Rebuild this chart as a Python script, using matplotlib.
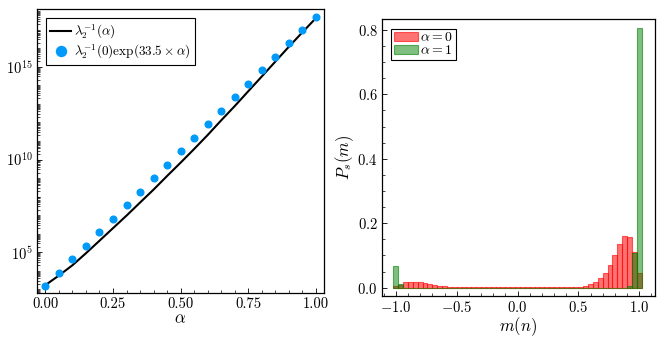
import numpy as np
import matplotlib
matplotlib.use("Agg")
import matplotlib.pyplot as plt
from matplotlib.ticker import MultipleLocator, LogLocator, FixedLocator, NullFormatter

# ----- style (computer modern, like the latex look)
plt.rcParams['font.family'] = 'serif'
plt.rcParams['font.serif'] = ['cmr10', 'DejaVu Serif']
plt.rcParams['mathtext.fontset'] = 'cm'
plt.rcParams['axes.formatter.use_mathtext'] = True
plt.rcParams['font.size'] = 10.5
plt.rcParams['xtick.labelsize'] = 10.5
plt.rcParams['ytick.labelsize'] = 10.5
plt.rcParams['axes.labelsize'] = 12

# ----- data, left panel
alpha_line = [0.00, 0.05, 0.10, 0.15, 0.20, 0.25, 0.30, 0.35, 0.40, 0.45, 0.50,
              0.55, 0.60, 0.65, 0.70, 0.75, 0.80, 0.85, 0.90, 0.95, 1.00]
lambda_inv = [1.7e3, 5.6e3, 2.0e4, 8.9e4, 4.2e5, 2.0e6, 9.5e6, 4.8e7, 2.4e8, 1.3e9, 6.8e9,
              3.7e10, 2.1e11, 1.3e12, 7.6e12, 4.8e13, 3.0e14, 1.9e15, 1.2e16, 7.2e16, 4.2e17]

alpha_pts = [0.00, 0.05, 0.10, 0.15, 0.20, 0.25, 0.30, 0.35, 0.40, 0.45, 0.50,
             0.55, 0.60, 0.65, 0.70, 0.75, 0.80, 0.85, 0.90, 0.95, 1.00]
fit_pts = [1.5e3, 8.0e3, 4.3e4, 2.3e5, 1.2e6, 6.5e6, 3.5e7, 1.85e8, 9.9e8, 5.3e9, 2.8e10,
           1.5e11, 8.0e11, 4.3e12, 2.3e13, 1.2e14, 6.5e14, 3.5e15, 1.85e16, 9.9e16, 5.0e17]

# ----- data, right panel (histograms, bin centres from -1 to 1)
m_bins = np.linspace(-1.0, 1.0, 51)
p_alpha0 = [0.004, 0.009, 0.017, 0.019, 0.018, 0.016, 0.013, 0.010, 0.007, 0.005,
            0.004, 0.003, 0.002, 0.0015, 0.001, 0.001, 0.0005, 0.0005, 0.0005, 0.0005,
            0.0005, 0.0005, 0.0005, 0.0005, 0.0005, 0.0005, 0.0005, 0.0005, 0.0005, 0.0005,
            0.0005, 0.0005, 0.0005, 0.0005, 0.001, 0.001, 0.0015, 0.002, 0.003, 0.006,
            0.011, 0.018, 0.029, 0.047, 0.070, 0.101, 0.136, 0.160, 0.156, 0.112,
            0.046]
p_alpha1 = [0.067, 0.010, 0.0, 0.0, 0.0, 0.0, 0.0, 0.0, 0.0, 0.0,
            0.0, 0.0, 0.0, 0.0, 0.0, 0.0, 0.0, 0.0, 0.0, 0.0,
            0.0, 0.0, 0.0, 0.0, 0.0, 0.0, 0.0, 0.0, 0.0, 0.0,
            0.0, 0.0, 0.0, 0.0, 0.0, 0.0, 0.0, 0.0, 0.0, 0.0,
            0.0, 0.0, 0.0, 0.0, 0.0, 0.0, 0.0, 0.0, 0.004, 0.107,
            0.806]

fig = plt.figure(figsize=(6.65, 3.44), dpi=100)

# ----- left panel
ax1 = fig.add_axes([0.0556, 0.1474, 0.4316, 0.8256])
ax1.plot(alpha_line, lambda_inv, color='black', lw=1.5, label=r'$\lambda_2^{-1}(\alpha)$', zorder=2)
ax1.plot(alpha_pts, fit_pts, 'o', color='#009AFA', ms=4.8, mec='#009AFA',
         label=r'$\lambda_2^{-1}(0)\exp(33.5\times\alpha)$', zorder=3)
ax1.set_yscale('log')
ax1.set_xlim(-0.031, 1.03)
ax1.set_ylim(10**2.79, 10**18.1)
ax1.set_xticks([0.0, 0.25, 0.5, 0.75, 1.0])
ax1.set_xticklabels(['0.00', '0.25', '0.50', '0.75', '1.00'])
ax1.xaxis.set_minor_locator(MultipleLocator(0.05))
ax1.yaxis.set_major_locator(FixedLocator([1e5, 1e10, 1e15]))
ax1.yaxis.set_minor_locator(LogLocator(base=10, subs=np.arange(1, 10), numticks=40))
ax1.yaxis.set_minor_formatter(NullFormatter())
ax1.set_xlabel(r'$\alpha$', labelpad=0)
leg1 = ax1.legend(loc='upper left', fancybox=False, edgecolor='black', framealpha=1,
                  handlelength=1.6, handletextpad=0.2, borderpad=0.35, borderaxespad=0.65,
                  labelspacing=0.15, markerscale=1.5, fontsize=9.5,
                  bbox_to_anchor=(0.0, 1.0))
leg1.get_frame().set_linewidth(0.8)

# ----- right panel
ax2 = fig.add_axes([0.574, 0.1404, 0.411, 0.8044])
ax2.bar(m_bins, p_alpha0, width=0.04, color=(1, 0, 0, 0.55), edgecolor=(1, 0, 0, 0.6),
        lw=0.8, label=r'$\alpha = 0$')
ax2.bar(m_bins, p_alpha1, width=0.04, color=(0, 0.5, 0, 0.5), edgecolor=(0, 0.5, 0, 0.6),
        lw=0.8, label=r'$\alpha = 1$')
ax2.set_xlim(-1.116, 1.13)
ax2.set_ylim(-0.025, 0.834)
ax2.set_xticks([-1.0, -0.5, 0.0, 0.5, 1.0])
ax2.xaxis.set_minor_locator(MultipleLocator(0.1))
ax2.set_yticks([0.0, 0.2, 0.4, 0.6, 0.8])
ax2.yaxis.set_minor_locator(MultipleLocator(0.05))
ax2.set_xlabel(r'$m(n)$', labelpad=0)
ax2.set_ylabel(r'$P_s(m)$', labelpad=1)
leg2 = ax2.legend(loc='upper left', fancybox=False, edgecolor='black', framealpha=1,
                  handlelength=1.7, handleheight=0.6, handletextpad=0.15, borderpad=0.2,
                  labelspacing=0.0, fontsize=10, borderaxespad=0.7,
                  bbox_to_anchor=(0.0, 1.0))
leg2.get_frame().set_linewidth(0.8)

for ax in (ax1, ax2):
    ax.tick_params(which='both', direction='in', top=False, right=False)
    ax.tick_params(which='major', length=3.5, width=0.6, pad=3)
    ax.tick_params(which='minor', length=2, width=0.5)
    for s in ax.spines.values():
        s.set_linewidth(0.9)

fig.savefig('out.png', dpi=100)
